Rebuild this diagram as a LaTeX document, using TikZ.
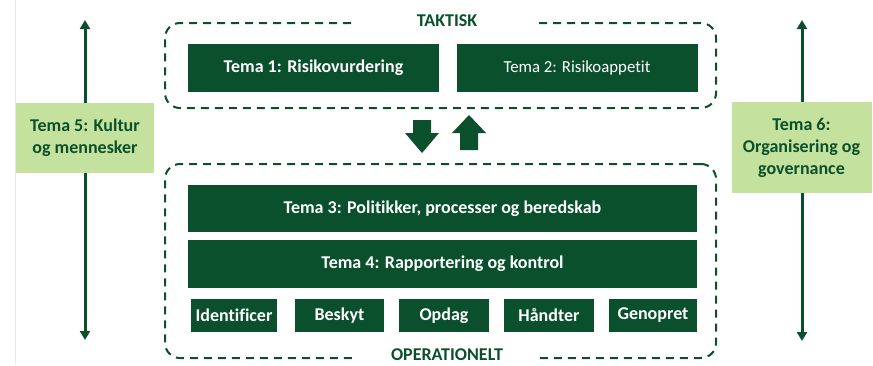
\documentclass[tikz,border=0pt]{standalone}
\usepackage{fontspec}
\setmainfont{Carlito}[RawFeature=-liga]
\usetikzlibrary{arrows.meta}
\definecolor{dg}{HTML}{0A502C}
\definecolor{lg}{HTML}{C4E29D}
\begin{document}
\begin{tikzpicture}[x=1pt,y=-1pt,
  dbox/.style={fill=dg, text=white, font=\bfseries\fontsize{18}{20}\selectfont, inner sep=0pt, outer sep=0pt},
  gbox/.style={fill=lg, text=dg, font=\bfseries\fontsize{18}{22}\selectfont, align=center, inner sep=0pt, outer sep=0pt},
  dashbox/.style={draw=dg, line width=2pt, dash pattern=on 8pt off 6pt, rounded corners=15pt, inner sep=0pt},
  lvl/.style={fill=white, text=dg, font=\bfseries\fontsize{18}{20}\selectfont, minimum width=180pt, inner sep=1pt},
  varr/.style={draw=dg, line width=3pt, -{Triangle[length=9pt,width=10pt]}},
  blockarr/.style={fill=dg, draw=none}]
\useasboundingbox (0,0) rectangle (873,365);
\draw[black!8, line width=0.8pt] (15,0) -- (15,365);

% dashed containers
\node[dashbox, minimum width=551pt, minimum height=85pt] (taktbox) at (440.5,65.5) {};
\node[dashbox, minimum width=551pt, minimum height=194pt] (operbox) at (440.5,261) {};
\node[lvl] (takt) at (447,21) {TAKTISK};
\node[lvl] (oper) at (447,355) {OPERATIONELT};

% tactical
\node[dbox, minimum width=251pt, minimum height=48pt] (t1) at (313.5,68) {Tema 1: Risikovurdering};
\node[dbox, minimum width=241pt, minimum height=48pt, font=\fontsize{16.8}{18}\selectfont] (t2) at (577,68) {Tema 2: Risikoappetit};

% operational
\node[dbox, minimum width=509pt, minimum height=47pt] (t3) at (442.5,208.5) {Tema 3: Politikker, processer og beredskab};
\node[dbox, minimum width=509pt, minimum height=48pt] (t4) at (442.5,264) {Tema 4: Rapportering og kontrol};
\node[dbox, minimum width=86pt, minimum height=33pt] (s1) at (234,315.5) {Identificer};
\node[dbox, minimum width=89pt, minimum height=33pt] (s2) at (339.5,315.5) {Beskyt};
\node[dbox, minimum width=90pt, minimum height=33pt] (s3) at (444,315.5) {Opdag};
\node[dbox, minimum width=90pt, minimum height=33pt] (s4) at (549,315.5) {Håndter};
\node[dbox, minimum width=88pt, minimum height=33pt] (s5) at (653,315.5) {Genopret};

% block arrows
\fill[blockarr] (413,120) -- (431,120) -- (431,133) -- (439,133) -- (422,153) -- (405,133) -- (413,133) -- cycle;
\fill[blockarr] (460,150) -- (478,150) -- (478,133) -- (486,133) -- (469,115) -- (452,133) -- (460,133) -- cycle;

% side themes
\node[gbox, minimum width=138pt, minimum height=70pt] (k5) at (85,138) {Tema 5: Kultur\\og mennesker};
\node[gbox, minimum width=140pt, minimum height=91pt] (k6) at (801.5,147.5) {Tema 6:\\Organisering og\\governance};
\coordinate (k5top) at (85,20);
\coordinate (k5bot) at (85,340);
\coordinate (k6top) at (802,20);
\coordinate (k6bot) at (802,341);
\draw[varr] (k5.north) -- (k5top);
\draw[varr] (k5.south) -- (k5bot);
\draw[varr] (k6.north -| k6top) -- (k6top);
\draw[varr] (k6.south -| k6bot) -- (k6bot);
\end{tikzpicture}
\end{document}
